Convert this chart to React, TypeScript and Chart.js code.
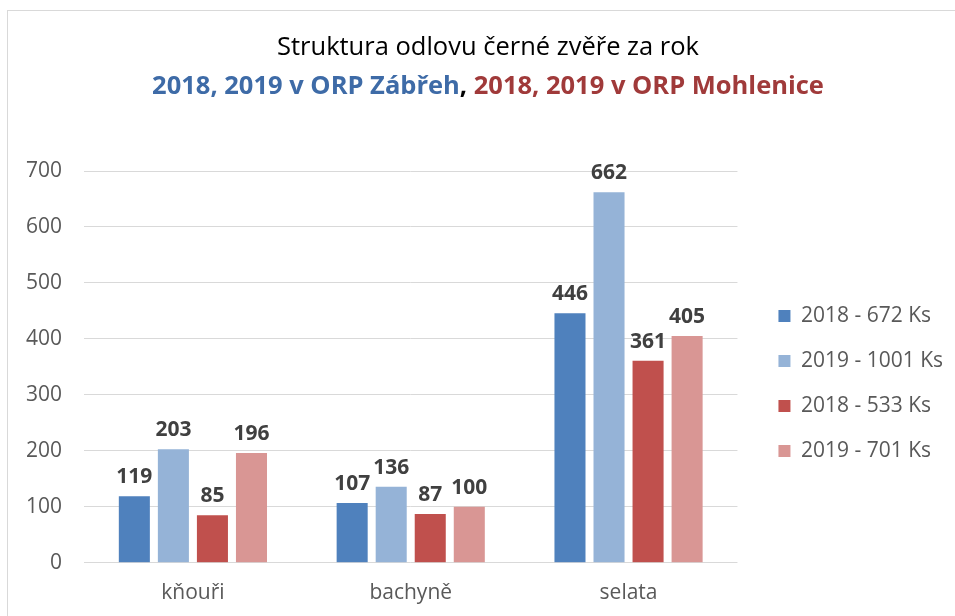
import React, { useEffect, useRef } from "react";
import { Chart, registerables } from "chart.js";

Chart.register(...registerables);

const categories = ["kňouři", "bachyně", "selata"];
const zabreh2018 = [119, 107, 446];
const zabreh2019 = [203, 136, 662];
const mohlenice2018 = [85, 87, 361];
const mohlenice2019 = [196, 100, 405];
const seriesLabels = ["2018 - 672 Ks", "2019 - 1001 Ks", "2018 - 533 Ks", "2019 - 701 Ks"];
const seriesColors = ["#4F81BD", "#95B3D7", "#C0504D", "#D99694"];

const titleLine1 = "Struktura odlovu černé zvěře za rok";
const titleLine2Blue = "2018, 2019 v ORP Zábřeh";
const titleLine2Sep = ", ";
const titleLine2Red = "2018, 2019 v ORP Mohlenice";

const FONT = "'Open Sans', 'DejaVu Sans', sans-serif";

const titlePlugin = {
  id: "customTitle",
  afterDraw(chart: any) {
    const ctx = chart.ctx;
    const cx = 480;
    ctx.save();
    ctx.textBaseline = "middle";
    ctx.textAlign = "left";
    ctx.font = `25.5px ${FONT}`;
    ctx.fillStyle = "#000000";
    const w1 = ctx.measureText(titleLine1).width;
    ctx.fillText(titleLine1, cx - w1 / 2, 37);
    ctx.font = `bold 25.5px ${FONT}`;
    const parts = [
      { t: titleLine2Blue, c: "#3E6BA7" },
      { t: titleLine2Sep, c: "#000000" },
      { t: titleLine2Red, c: "#A03A3A" },
    ];
    const total = parts.reduce((s, p) => s + ctx.measureText(p.t).width, 0);
    let x = cx - total / 2;
    for (const p of parts) {
      ctx.fillStyle = p.c;
      ctx.fillText(p.t, x, 76);
      x += ctx.measureText(p.t).width;
    }
    ctx.restore();
  },
};

const valueLabelPlugin = {
  id: "valueLabels",
  afterDatasetsDraw(chart: any) {
    const ctx = chart.ctx;
    ctx.save();
    ctx.font = `bold 21px ${FONT}`;
    ctx.fillStyle = "#404040";
    ctx.textAlign = "center";
    ctx.textBaseline = "alphabetic";
    chart.data.datasets.forEach((ds: any, i: number) => {
      const meta = chart.getDatasetMeta(i);
      meta.data.forEach((el: any, j: number) => {
        ctx.fillText(String(ds.data[j]), el.x, el.y - 13);
      });
    });
    ctx.restore();
  },
};

const legendShiftPlugin = {
  id: "legendShift",
  afterLayout(chart: any) {
    const lg = chart.legend;
    if (!lg) return;
    lg.left += 17;
    lg.right += 17;
    lg.top -= 14;
    lg.bottom -= 14;
  },
};

export default function App() {
  const ref = useRef<HTMLCanvasElement | null>(null);
  useEffect(() => {
    if (!ref.current) return;
    const chart = new Chart(ref.current, {
      type: "bar",
      data: {
        labels: categories,
        datasets: [
          { label: seriesLabels[0], data: zabreh2018, backgroundColor: seriesColors[0] },
          { label: seriesLabels[1], data: zabreh2019, backgroundColor: seriesColors[1] },
          { label: seriesLabels[2], data: mohlenice2018, backgroundColor: seriesColors[2] },
          { label: seriesLabels[3], data: mohlenice2019, backgroundColor: seriesColors[3] },
        ],
      },
      options: {
        animation: false,
        responsive: true,
        maintainAspectRatio: false,
        datasets: { bar: { categoryPercentage: 0.717, barPercentage: 0.795 } },
        layout: { padding: { top: 160, right: 19, bottom: 14, left: 0 } },
        plugins: {
          title: { display: false },
          tooltip: { enabled: false },
          legend: {
            position: "right",
            labels: {
              boxWidth: 12,
              boxHeight: 12,
              padding: 24,
              color: "#595959",
              font: { family: FONT, size: 21 },
            },
          },
        },
        scales: {
          x: {
            grid: { display: false, drawTicks: false },
            border: { display: false },
            ticks: { color: "#595959", font: { family: FONT, size: 21 }, padding: 18 },
          },
          y: {
            min: 0,
            max: 700,
            afterFit(scale: any) {
              scale.width = 76;
            },
            grid: { color: "#D9D9D9", lineWidth: 1, drawTicks: false },
            border: { display: false },
            ticks: {
              stepSize: 100,
              color: "#595959",
              font: { family: FONT, size: 21 },
              padding: 22,
            },
          },
        },
      },
      plugins: [titlePlugin, valueLabelPlugin, legendShiftPlugin],
    });
    return () => chart.destroy();
  }, []);

  return (
    <div
      style={{
        position: "fixed",
        left: 7,
        top: 10,
        width: 948,
        height: 606,
        overflow: "hidden",
        borderTop: "1px solid #D9D9D9",
        borderLeft: "1px solid #D9D9D9",
        background: "#fff",
      }}
    >
      <div style={{ position: "relative", width: 947, height: 627 }}>
        <canvas ref={ref} />
      </div>
    </div>
  );
}
